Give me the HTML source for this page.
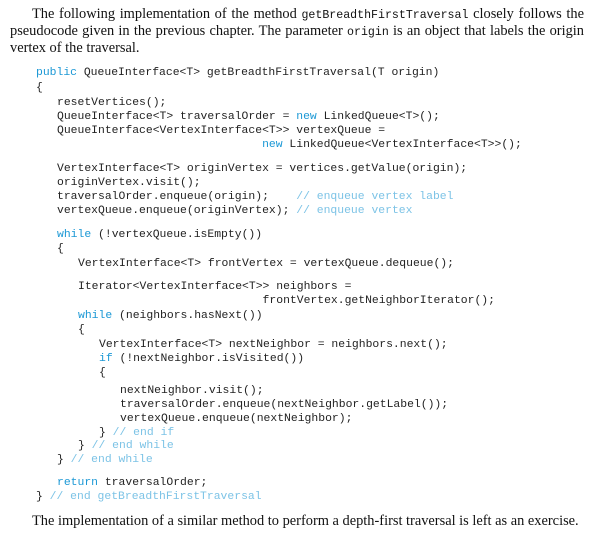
<!DOCTYPE html>
<html><head><meta charset="utf-8"><style>
body{margin:0;width:602px;height:535px;background:#fff;position:relative;overflow:hidden;color:#111}
.p{position:absolute;font-family:"Liberation Serif",serif;font-size:14.4px;line-height:17px;white-space:nowrap}
.j{text-align:justify;text-align-last:justify;white-space:normal;height:17px;overflow:hidden}
.c{position:absolute;font-family:"Liberation Mono",monospace;font-size:11.4px;line-height:14px;white-space:pre;color:#222}
.m{font-family:"Liberation Mono",monospace;font-size:11.6px}
.k{color:#1b98d5}
.g{color:#7cc3e6}
</style></head><body>
<div class="p j" style="left:32px;top:6px;width:552px">The following implementation of the method <span class="m">getBreadthFirstTraversal</span> closely follows the</div>
<div class="p j" style="left:10px;top:23px;width:574px">pseudocode given in the previous chapter. The parameter <span class="m">origin</span> is an object that labels the origin</div>
<div class="p" style="left:10px;top:40px">vertex of the traversal.</div>

<div class="c" style="left:36px;top:66px"><span class="k">public</span> QueueInterface&lt;T&gt; getBreadthFirstTraversal(T origin)</div>
<div class="c" style="left:36px;top:81px">{</div>
<div class="c" style="left:57px;top:96px">resetVertices();</div>
<div class="c" style="left:57px;top:110px">QueueInterface&lt;T&gt; traversalOrder = <span class="k">new</span> LinkedQueue&lt;T&gt;();</div>
<div class="c" style="left:57px;top:124px">QueueInterface&lt;VertexInterface&lt;T&gt;&gt; vertexQueue =</div>
<div class="c" style="left:57px;top:138px">                              <span class="k">new</span> LinkedQueue&lt;VertexInterface&lt;T&gt;&gt;();</div>
<div class="c" style="left:57px;top:162px">VertexInterface&lt;T&gt; originVertex = vertices.getValue(origin);</div>
<div class="c" style="left:57px;top:176px">originVertex.visit();</div>
<div class="c" style="left:57px;top:190px">traversalOrder.enqueue(origin);    <span class="g">// enqueue vertex label</span></div>
<div class="c" style="left:57px;top:204px">vertexQueue.enqueue(originVertex); <span class="g">// enqueue vertex</span></div>
<div class="c" style="left:57px;top:228px"><span class="k">while</span> (!vertexQueue.isEmpty())</div>
<div class="c" style="left:57px;top:242px">{</div>
<div class="c" style="left:78px;top:257px">VertexInterface&lt;T&gt; frontVertex = vertexQueue.dequeue();</div>
<div class="c" style="left:78px;top:280px">Iterator&lt;VertexInterface&lt;T&gt;&gt; neighbors =</div>
<div class="c" style="left:78px;top:294px">                           frontVertex.getNeighborIterator();</div>
<div class="c" style="left:78px;top:309px"><span class="k">while</span> (neighbors.hasNext())</div>
<div class="c" style="left:78px;top:323px">{</div>
<div class="c" style="left:99px;top:338px">VertexInterface&lt;T&gt; nextNeighbor = neighbors.next();</div>
<div class="c" style="left:99px;top:352px"><span class="k">if</span> (!nextNeighbor.isVisited())</div>
<div class="c" style="left:99px;top:366px">{</div>
<div class="c" style="left:120px;top:384px">nextNeighbor.visit();</div>
<div class="c" style="left:120px;top:398px">traversalOrder.enqueue(nextNeighbor.getLabel());</div>
<div class="c" style="left:120px;top:412px">vertexQueue.enqueue(nextNeighbor);</div>
<div class="c" style="left:99px;top:426px">} <span class="g">// end if</span></div>
<div class="c" style="left:78px;top:439px">} <span class="g">// end while</span></div>
<div class="c" style="left:57px;top:453px">} <span class="g">// end while</span></div>
<div class="c" style="left:57px;top:476px"><span class="k">return</span> traversalOrder;</div>
<div class="c" style="left:36px;top:490px">} <span class="g">// end getBreadthFirstTraversal</span></div>
<div class="p" style="left:32px;top:513px">The implementation of a similar method to perform a depth-first traversal is left as an exercise.</div>
</body></html>
